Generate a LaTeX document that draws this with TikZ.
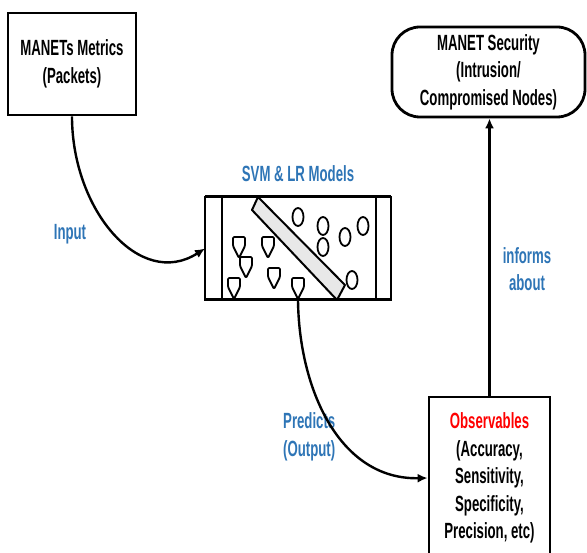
\documentclass[tikz,border=0pt]{standalone}
\usepackage{fontspec}
\setmainfont{Liberation Sans}[FakeStretch=0.6]
\usetikzlibrary{arrows.meta,calc}
\definecolor{lblue}{RGB}{46,117,182}
\begin{document}
\begin{tikzpicture}[x=1pt,y=-1pt,
  txt/.style={font=\fontsize{22}{27.5}\selectfont\bfseries, align=center, inner sep=0pt},
  boxnode/.style={txt, draw, line width=2.8pt, rectangle},
  lbl/.style={txt, text=lblue},
  conn/.style={line width=2.4pt, -{Latex[length=10pt,width=9pt]}},
  shield/.style={draw, fill=white, line width=1.8pt, line join=round, rounded corners=1.2pt},
  dot/.style={draw, line width=1.8pt},
  framebox/.style={draw, line width=2pt, rectangle, outer sep=0pt, inner sep=0pt}
]
\useasboundingbox (0,0) rectangle (587,553);
\clip (0,0) rectangle (587,553);

% main boxes
\node[boxnode, minimum width=128pt, minimum height=102pt] (metrics) at (72,64)
  {MANETs Metrics\\(Packets)};
\node[boxnode, minimum width=193pt, minimum height=90pt, rounded corners=28pt] (sec) at (488.5,72)
  {MANET Security\\(Intrusion/\\Compromised Nodes)};
\node[boxnode, minimum width=121pt, minimum height=162pt] (obs) at (489.5,478)
  {\textcolor{red}{Observables}\\(Accuracy,\\Sensitivity,\\Specificity,\\Precision, etc)};

% SVM & LR model box
\node[framebox, minimum width=186pt, minimum height=103pt] (svm) at (298,248.5) {};
\draw[line width=2pt] ($(svm.north west)+(17,0)$) -- ($(svm.south west)+(17,0)$);
\draw[line width=2pt] ($(svm.north east)+(-15,0)$) -- ($(svm.south east)+(-15,0)$);
\filldraw[fill=gray!18, line width=2pt, line join=round] (258,197) -- (345,285) -- (337,300) -- (252,210) -- cycle;
\foreach \ex/\ey in {298/217, 323/226, 323/247, 345/237, 363/226, 352/280}
  \draw[dot] (\ex,\ey) ellipse [x radius=5.5, y radius=9];
\foreach \cx/\t in {239/237, 268/237, 246/257, 274/268, 234/278, 298/278}
  \draw[shield] (\cx-6,\t) -- (\cx+6,\t) -- (\cx+6,\t+9) -- (\cx,\t+21) -- (\cx-6,\t+9) -- cycle;
\draw[line width=3pt] (svm.north west) -- (svm.north east);
\draw[line width=3pt] (svm.south west) -- (svm.south east);

% labels
\node[lbl] (svmlbl) at (298,174) {SVM \& LR Models};
\node[lbl] (inlbl) at (70,234) {Input};
\node[lbl, align=left, anchor=west] (predlbl) at (283,437) {Predicts\\(Output)};
\node[lbl] (inflbl) at (527,269) {informs\\about};

% connectors
\draw[conn] (metrics.south) .. controls (72,210) and (140,290) .. (svm.west);
\draw[conn] (svm.south) .. controls (299,390) and (340,480) .. (obs.west);
\draw[conn] (obs.north) -- (obs.north |- sec.south);
\end{tikzpicture}
\end{document}
